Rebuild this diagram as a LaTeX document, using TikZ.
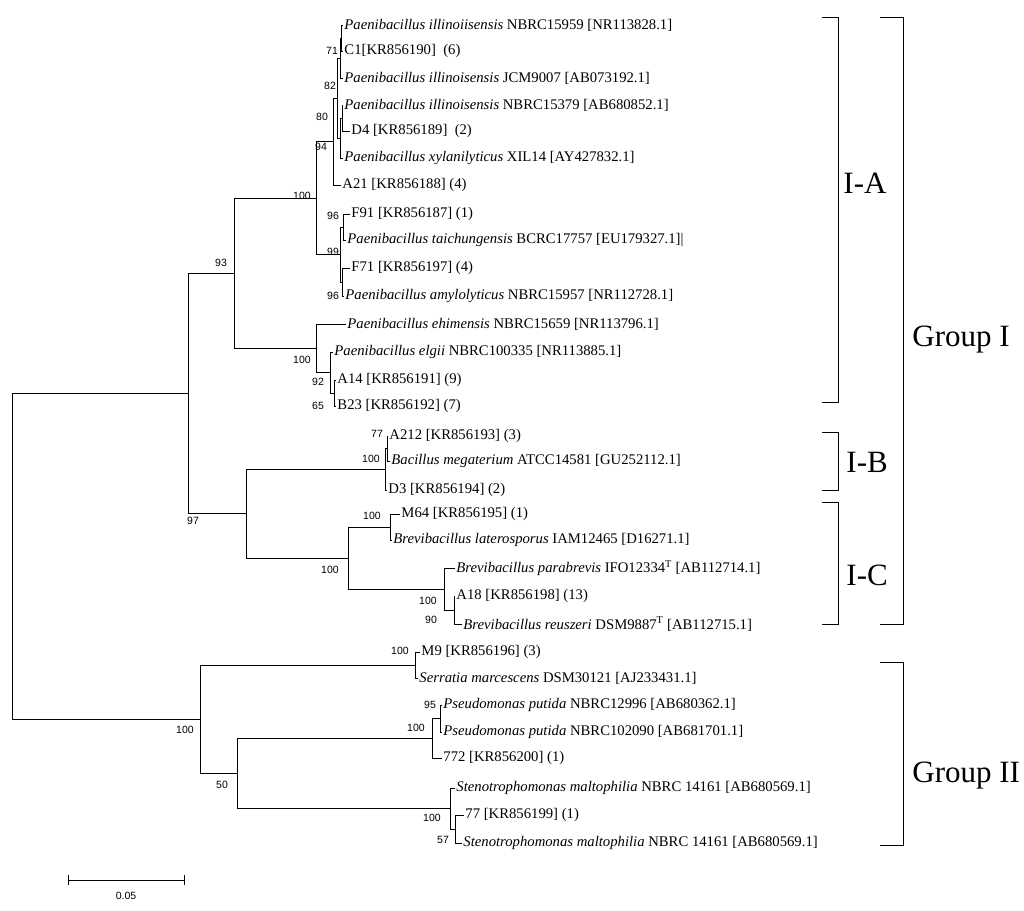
\documentclass[tikz,border=0pt]{standalone}
\usepackage{fontspec}
\setmainfont{Liberation Serif}
\newfontfamily\bsfont{Liberation Sans}
\begin{document}
\begin{tikzpicture}[x=1pt,y=-1pt,line width=0.9pt,
  leaf/.style={anchor=west,inner sep=1pt,font=\fontsize{14.7}{16}\selectfont},
  bs/.style={inner sep=0pt,font=\bsfont\fontsize{10.5}{12}\selectfont},
  grp/.style={inner sep=0pt,font=\fontsize{31}{34}\selectfont,anchor=west}]
\useasboundingbox (0,0) rectangle (1024,910);
\newcommand\lf[5]{\node[leaf] (#1) at (#3,#4) {#5}; \draw (#2,#4) -- (#1.west);}
\newcommand\vl[3]{\draw (#1,#2) -- (#1,#3);}
\newcommand\hl[3]{\draw (#1,#3) -- (#2,#3);}
% Group I-A
\vl{341}{25}{51}
\lf{l1}{341}{343}{25}{\textit{Paenibacillus illinoiisensis} NBRC15959 [NR113828.1]}
\lf{l2}{341}{343}{51}{C1[KR856190]\ \ (6)}
\vl{340}{38}{78}\hl{340}{341}{38}
\lf{l3}{340}{343}{78}{\textit{Paenibacillus illinoisensis} JCM9007 [AB073192.1]}
\vl{342}{105}{131}
\lf{l4}{342}{343}{105}{\textit{Paenibacillus illinoisensis} NBRC15379 [AB680852.1]}
\lf{l5}{342}{350}{131}{D4 [KR856189]\ \ (2)}
\vl{340}{118}{158}\hl{340}{342}{118}
\lf{l6}{340}{343}{158}{\textit{Paenibacillus xylanilyticus} XIL14 [AY427832.1]}
\vl{337}{58}{138}\hl{337}{340}{58}\hl{337}{340}{138}
\vl{333}{98}{185}\hl{333}{337}{98}
\lf{l7}{333}{341}{185}{A21 [KR856188] (4)}
\vl{343}{214}{240}
\lf{l8}{343}{350}{214}{F91 [KR856187] (1)}
\lf{l9}{343}{346}{240}{\textit{Paenibacillus taichungensis} BCRC17757 [EU179327.1]|}
\vl{342}{268}{296}
\lf{l10}{342}{350}{268}{F71 [KR856197] (4)}
\lf{l11}{342}{344}{296}{\textit{Paenibacillus amylolyticus} NBRC15957 [NR112728.1]}
\vl{340}{227}{282}\hl{340}{343}{227}\hl{340}{342}{282}
\vl{316}{141}{254}\hl{316}{333}{141}\hl{316}{340}{254}
\vl{316}{324}{372}
\lf{l12}{316}{346}{324}{\textit{Paenibacillus ehimensis} NBRC15659 [NR113796.1]}
\hl{316}{330}{372}
\vl{330}{352}{393}
\lf{l13}{330}{333}{352}{\textit{Paenibacillus elgii} NBRC100335 [NR113885.1]}
\hl{330}{334}{393}
\vl{334}{380}{406}
\lf{l14}{334}{336}{380}{A14 [KR856191] (9)}
\lf{l15}{334}{336}{406}{B23 [KR856192] (7)}
\vl{234}{198}{348}\hl{234}{316}{198}\hl{234}{316}{348}
% I-B
\vl{387}{436}{461}
\lf{l16}{387}{388}{436}{A212 [KR856193] (3)}
\lf{l17}{387}{390}{461}{\textit{Bacillus megaterium} ATCC14581 [GU252112.1]}
\vl{385}{448}{490}\hl{385}{387}{448}
\lf{l18}{385}{387}{490}{D3 [KR856194] (2)}
% I-C
\vl{390}{514}{540}
\lf{l19}{390}{400}{514}{M64 [KR856195] (1)}
\lf{l20}{390}{392}{540}{\textit{Brevibacillus laterosporus} IAM12465 [D16271.1]}
\vl{454}{596}{624}
\lf{l22}{454}{455}{596}{A18 [KR856198] (13)}
\lf{l23}{454}{462}{624}{\textit{Brevibacillus reuszeri} DSM9887\textsuperscript{T} [AB112715.1]}
\vl{444}{568}{610}\hl{444}{454}{610}
\lf{l21}{444}{455}{568}{\textit{Brevibacillus parabrevis} IFO12334\textsuperscript{T} [AB112714.1]}
\vl{348}{527}{589}\hl{348}{390}{527}\hl{348}{444}{589}
\vl{246}{469}{558}\hl{246}{385}{469}\hl{246}{348}{558}
\vl{188}{273}{513}\hl{188}{234}{273}\hl{188}{246}{513}
% Group II
\vl{415}{652}{678}
\lf{l24}{415}{420}{652}{M9 [KR856196] (3)}
\lf{l25}{415}{418}{678}{\textit{Serratia marcescens} DSM30121 [AJ233431.1]}
\vl{440}{705}{732}
\lf{l26}{440}{442}{705}{\textit{Pseudomonas putida} NBRC12996 [AB680362.1]}
\lf{l27}{440}{442}{732}{\textit{Pseudomonas putida} NBRC102090 [AB681701.1]}
\vl{432}{718}{758}\hl{432}{440}{718}
\lf{l28}{432}{442}{758}{772 [KR856200] (1)}
\vl{455}{815}{843}
\lf{l30}{455}{464}{815}{77 [KR856199] (1)}
\lf{l31}{455}{462}{843}{\textit{Stenotrophomonas maltophilia} NBRC 14161 [AB680569.1]}
\vl{450}{788}{829}\hl{450}{455}{829}
\lf{l29}{450}{455}{788}{\textit{Stenotrophomonas maltophilia} NBRC 14161 [AB680569.1]}
\vl{237}{738}{808}\hl{237}{432}{738}\hl{237}{450}{808}
\vl{200}{665}{773}\hl{200}{415}{665}\hl{200}{237}{773}
\vl{12}{393}{719}\hl{12}{188}{393}\hl{12}{200}{719}
% bootstrap values
\node[bs] at (332,51) {71};
\node[bs] at (330,86) {82};
\node[bs] at (322,117) {80};
\node[bs] at (321,147) {94};
\node[bs] at (302,196) {100};
\node[bs] at (333,216) {96};
\node[bs] at (333,252) {99};
\node[bs] at (333,296) {96};
\node[bs] at (302,360) {100};
\node[bs] at (318,382) {92};
\node[bs] at (318,406) {65};
\node[bs] at (221,263) {93};
\node[bs] at (377,434) {77};
\node[bs] at (371,459) {100};
\node[bs] at (372,516) {100};
\node[bs] at (330,570) {100};
\node[bs] at (428,601) {100};
\node[bs] at (431,620) {90};
\node[bs] at (193,521) {97};
\node[bs] at (400,651) {100};
\node[bs] at (430,705) {95};
\node[bs] at (416,728) {100};
\node[bs] at (432,818) {100};
\node[bs] at (443,840) {57};
\node[bs] at (222,785) {50};
\node[bs] at (185,730) {100};
% brackets
\draw (822,17) -- (838,17) -- (838,402) -- (822,402);
\draw (822,432) -- (838,432) -- (838,490) -- (822,490);
\draw (822,502) -- (838,502) -- (838,624) -- (822,624);
\draw (880,17) -- (903,17) -- (903,624) -- (880,624);
\draw (880,662) -- (903,662) -- (903,845) -- (880,845);
\node[grp] (ia) at (843,183) {I-A};
\node[grp] (ib) at (846,462) {I-B};
\node[grp] (ic) at (846,575) {I-C};
\node[grp] (g1) at (912,340) {Group I};
\node[grp] (g2) at (912,776) {Group II};
% scale bar
\draw (68,880) -- (184,880);
\draw (68,875) -- (68,885);
\draw (184,875) -- (184,885);
\node[bs] at (126,896) {0.05};
\end{tikzpicture}
\end{document}
